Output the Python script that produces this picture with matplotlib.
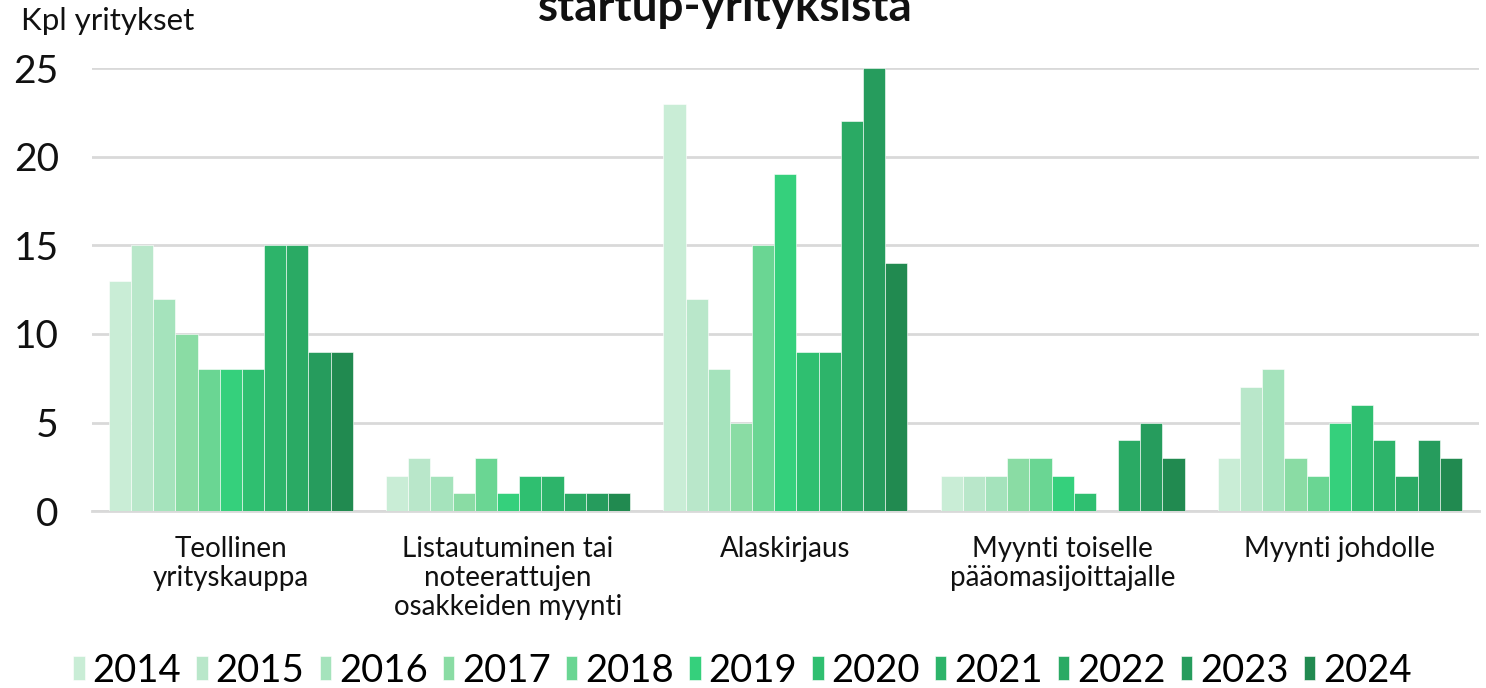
import numpy as np
import matplotlib.pyplot as plt

plt.rcParams['font.family'] = ['Lato', 'DejaVu Sans']

categories = ['Teollinen\nyrityskauppa', 'Listautuminen tai\nnoteerattujen\nosakkeiden myynti',
              'Alaskirjaus', 'Myynti toiselle\npääomasijoittajalle', 'Myynti johdolle']
years = ['2014', '2015', '2016', '2017', '2018', '2019', '2020', '2021', '2022', '2023', '2024']
values = {
    '2014': [13, 2, 23, 2, 3],
    '2015': [15, 3, 12, 2, 7],
    '2016': [12, 2, 8, 2, 8],
    '2017': [10, 1, 5, 3, 3],
    '2018': [8, 3, 15, 3, 2],
    '2019': [8, 1, 19, 2, 5],
    '2020': [8, 2, 9, 1, 6],
    '2021': [15, 2, 9, 0, 4],
    '2022': [15, 1, 22, 4, 2],
    '2023': [9, 1, 25, 5, 4],
    '2024': [9, 1, 14, 3, 3],
}
colors = ['#C9EDD6', '#B9E7CA', '#A5E3BC', '#8ADCA4', '#6AD693', '#35D07C',
          '#2FBF70', '#2DB46A', '#2AAA64', '#269C5D', '#218A50']

fig, ax = plt.subplots(figsize=(14.86, 6.88), dpi=100)
fig.subplots_adjust(left=0.062, right=0.995, top=0.901, bottom=0.257)

x = np.arange(len(categories))
w = 0.08
for k, yr in enumerate(years):
    ax.bar(x + (k - 5) * w, values[yr], width=w, color=colors[k], label=yr,
           edgecolor='white', linewidth=0.4, zorder=3)

ax.set_xlim(-0.5, 4.5)
ax.set_ylim(0, 25)
ax.set_yticks([0, 5, 10, 15, 20, 25])
ax.yaxis.grid(True, color='#D9D9D9', linewidth=2, zorder=0)
ax.set_axisbelow(True)
for s in ['left', 'right', 'top']:
    ax.spines[s].set_visible(False)
ax.spines['bottom'].set_color('#D9D9D9')
ax.spines['bottom'].set_linewidth(2)
ax.tick_params(axis='y', length=0, labelsize=28, pad=24, labelcolor='#111111')
ax.tick_params(axis='x', length=0, labelsize=20, pad=18, labelcolor='#111111')
ax.set_xticks(x)
ax.set_xticklabels(categories, linespacing=1.15, va='top')

fig.text(0.014, 0.97, 'Kpl yritykset', fontsize=22.5, color='#111111', va='center')
fig.text(0.488, 0.9695, 'startup-yrityksista', fontsize=33, fontweight='bold',
         ha='center', va='baseline', color='#111111')

ax.legend(loc='center', bbox_to_anchor=(0.469, -0.36), ncol=11, frameon=False,
          fontsize=27.5, handlelength=0.3, handleheight=0.6, handletextpad=0.2,
          columnspacing=0.4, borderaxespad=0)

fig.savefig('out.png', dpi=100)
